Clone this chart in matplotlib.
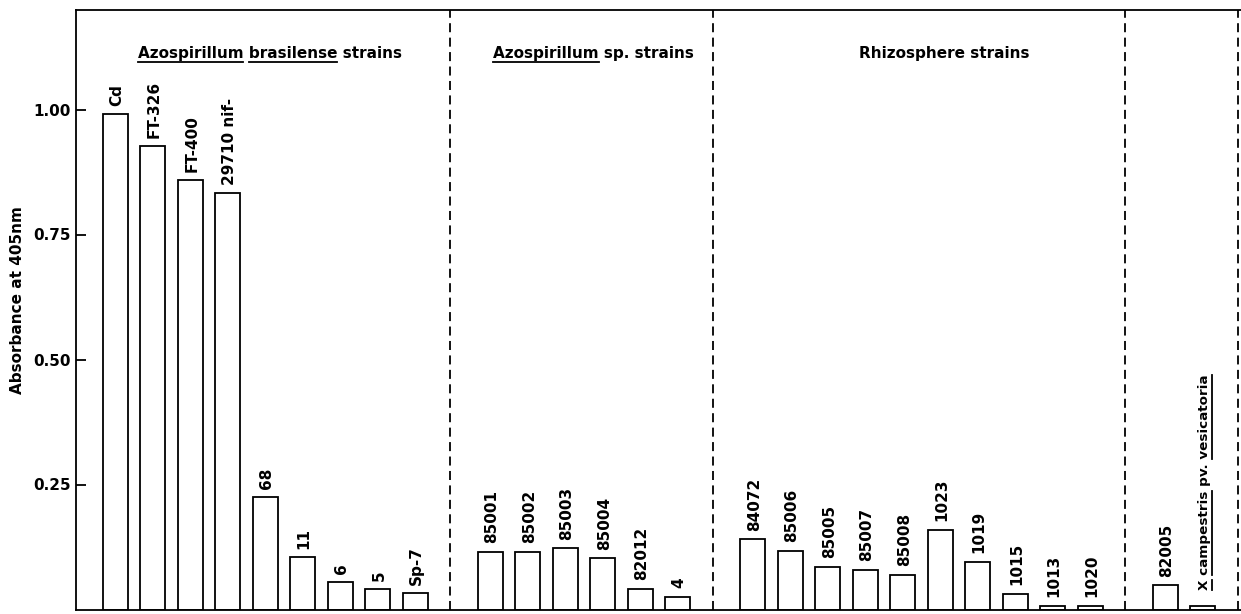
import matplotlib
matplotlib.use("Agg")
import matplotlib.pyplot as plt
from matplotlib.lines import Line2D

# strain groups
brasilense_strains = ["Cd", "FT-326", "FT-400", "29710 nif-", "68", "11", "6", "5", "Sp-7"]
brasilense_abs = [0.991, 0.927, 0.859, 0.833, 0.225, 0.105, 0.055, 0.041, 0.033]

sp_strains = ["85001", "85002", "85003", "85004", "82012", "4"]
sp_abs = [0.116, 0.116, 0.123, 0.103, 0.042, 0.026]

rhizo_strains = ["84072", "85006", "85005", "85007", "85008", "1023", "1019", "1015", "1013", "1020"]
rhizo_abs = [0.141, 0.118, 0.086, 0.080, 0.070, 0.160, 0.096, 0.032, 0.008, 0.008]

xanth_strains = ["82005", "X campestris pv. vesicatoria"]
xanth_abs = [0.049, 0.008]

group_titles = ["Azospirillum brasilense strains", "Azospirillum sp. strains",
                "Rhizosphere strains", None]
title_underlines = [["Azospirillum", "brasilense"], ["Azospirillum"], [], []]
yticks = [0.25, 0.50, 0.75, 1.00]
ytick_labels = ["0.25", "0.50", "0.75", "1.00"]

groups = [
    (brasilense_strains, brasilense_abs),
    (sp_strains, sp_abs),
    (rhizo_strains, rhizo_abs),
    (xanth_strains, xanth_abs),
]

FONT = dict(family="DejaVu Sans", fontweight="bold", fontsize=11)

fig = plt.figure(figsize=(12.41, 6.14), dpi=100)
ax = fig.add_axes([76 / 1241, 4.5 / 614, 1165 / 1241, 600 / 614])

title_x = [4.12, 12.75, 22.1]
seps = []
labels_to_underline = []
pos = 0
for gi, (names, vals) in enumerate(groups):
    xs = list(range(pos, pos + len(names)))
    ax.bar(xs, vals, width=0.67, facecolor="white", edgecolor="black", linewidth=1.3)
    for x, v, name in zip(xs, vals, names):
        if name.startswith("X "):
            t = ax.annotate(name, (x, v), xytext=(1, 11), textcoords="offset points",
                            rotation=90, ha="center", va="bottom",
                            **{**FONT, "fontsize": 9.7})
            labels_to_underline.append((t, ["X", "campestris", "vesicatoria"]))
        else:
            ax.annotate(name, (x, v), xytext=(1, 6), textcoords="offset points",
                        rotation=90, ha="center", va="bottom", **FONT)
    seps.append(xs[-1] + 0.93)
    if group_titles[gi]:
        t = ax.text(title_x[gi], 1.112, group_titles[gi], ha="center", va="center", **FONT)
        labels_to_underline.append((t, title_underlines[gi]))
    pos = xs[-1] + 2

for s in seps:
    ax.axvline(s, color="black", linewidth=1.3, linestyle=(0, (5, 3)))

ax.set_xlim(-1.05, 30.02)
ax.set_ylim(0, 1.2)
ax.set_xticks([])
ax.set_yticks(yticks)
ax.set_yticklabels(ytick_labels, **FONT)
ax.tick_params(axis="y", direction="in", length=7, width=1.3, pad=4)
ax.spines["right"].set_visible(False)
for sp in ("left", "bottom", "top"):
    ax.spines[sp].set_linewidth(1.3)
ax.text(-0.05, 0.515, "Absorbance at 405nm", rotation=90, ha="center", va="center",
        transform=ax.transAxes, **FONT)

# underline selected words
fig.canvas.draw()
r = fig.canvas.get_renderer()
inv = fig.transFigure.inverted()
for t, words in labels_to_underline:
    s = t.get_text()
    prop = t.get_fontproperties()
    bb = t.get_window_extent(r)
    _, h, d = r.get_text_width_height_descent(s, prop, ismath=False)
    for w in words:
        i = s.index(w)
        end = r.get_text_width_height_descent(s[:i + len(w)], prop, ismath=False)[0]
        wl = r.get_text_width_height_descent(w, prop, ismath=False)[0]
        start = end - wl
        if t.get_rotation() == 90:
            x = bb.x1 - d + 4
            p0 = inv.transform((x, bb.y0 + start))
            p1 = inv.transform((x, bb.y0 + end))
        else:
            y = bb.y0 + d - 4
            p0 = inv.transform((bb.x0 + start, y))
            p1 = inv.transform((bb.x0 + end, y))
        fig.add_artist(Line2D([p0[0], p1[0]], [p0[1], p1[1]], color="black",
                              linewidth=1.3, transform=fig.transFigure))

fig.savefig("out.png", dpi=100)
